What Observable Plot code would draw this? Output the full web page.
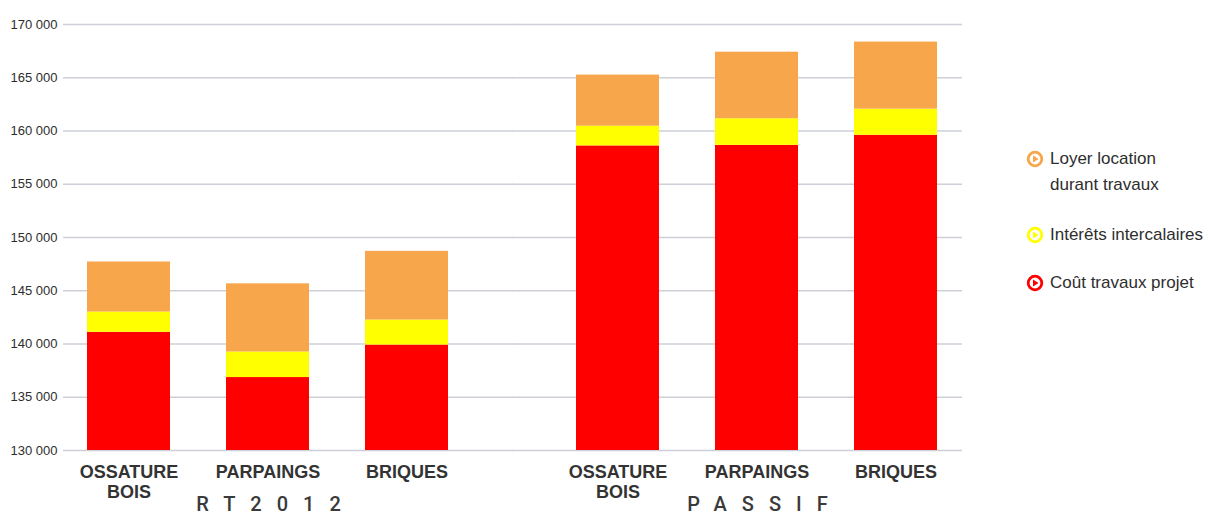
<!DOCTYPE html>
<html><head><meta charset="utf-8">
<script src="https://cdn.jsdelivr.net/npm/d3@7"></script>
<script src="https://cdn.jsdelivr.net/npm/@observablehq/plot@0.6"></script>
<style>
body{margin:0;background:#fff;}
#wrap{position:relative;width:1208px;height:523px;overflow:hidden;}
.leg{position:absolute;left:1026px;font:17px "Liberation Sans",Arial,sans-serif;color:#2e2e2e;line-height:26px;white-space:pre;}
.leg svg{position:absolute;left:0;top:4px;}
.leg span{display:block;margin-left:24px;}
</style></head><body><div id="wrap"></div>
<script>
const groups = ["RT2012", "PASSIF"];
const materials = ["OSSATURE\nBOIS", "PARPAINGS", "BRIQUES"];
const series = ["Coût travaux projet", "Intérêts intercalaires", "Loyer location durant travaux"];
const legendLabels = ["Loyer location\ndurant travaux", "Intérêts intercalaires", "Coût travaux projet"];
const coutTravaux = [141100, 136850, 139900, 158600, 158650, 159600];
const interets = [1900, 2400, 2350, 1850, 2500, 2450];
const loyer = [4700, 6400, 6450, 4800, 6250, 6300];
const yTicks = [130000, 135000, 140000, 145000, 150000, 155000, 160000, 165000, 170000];
const colors = ["#ff0000", "#ffff00", "#f7a64b"];

const rows = [];
groups.forEach((g, gi) => materials.forEach((m, mi) => {
  const i = gi * 3 + mi;
  [coutTravaux[i], interets[i], loyer[i]].forEach((v, si) =>
    rows.push({group: g, material: m, serie: series[si], value: v}));
}));
const gridLeft = yTicks.map(v => ({group: groups[0], v}));
const gridRight = yTicks.map(v => ({group: groups[1], v}));

const fr = d3.formatLocale({decimal: ",", thousands: " ", grouping: [3], currency: ["", " €"]});
const fmt = fr.format(",d");

const chart = Plot.plot({
  width: 1208,
  height: 523,
  marginTop: 24,
  marginBottom: 73,
  marginLeft: 63,
  marginRight: 245,
  style: {fontFamily: "'Liberation Sans', Arial, sans-serif", color: "#333", background: "#fff"},
  fx: {domain: groups, paddingInner: 0.161, paddingOuter: 0, label: null},
  x: {domain: materials, paddingInner: 0.4025, paddingOuter: 0.17, label: null},
  y: {domain: [130000, 170000], label: null},
  color: {domain: series, range: colors},
  marks: [
    Plot.ruleY(gridLeft, {fx: "group", y: "v", stroke: "#cdd0d8", strokeWidth: 1.3, insetRight: -40}),
    Plot.ruleY(gridRight, {fx: "group", y: "v", stroke: "#cdd0d8", strokeWidth: 1.3, insetLeft: -40}),
    Plot.barY(rows, {fx: "group", x: "material", y: "value", fill: "serie", order: series, clip: true}),
    Plot.axisY(yTicks, {tickSize: 0, tickPadding: 6, tickFormat: fmt, fontSize: 13, fill: "#2e2e2e", label: null}),
    Plot.axisX({tickSize: 0, tickPadding: 13, fontSize: 18, fontWeight: "bold", lineHeight: 1.11, fill: "#333", label: null}),
    Plot.axisFx({anchor: "bottom", tickSize: 0, tickPadding: 46, fontSize: 20, fontFamily: "Roboto, 'Liberation Sans', sans-serif", fontWeight: 500, fill: "#3a3a3a", label: null, dx: 7.5})
  ]
});
document.getElementById("wrap").appendChild(chart);
chart.querySelectorAll('g[aria-label="fx-axis tick label"] text').forEach(t => t.style.letterSpacing = "15px");

const tops = [146, 222, 270];
const legColors = [colors[2], colors[1], colors[0]];
legendLabels.forEach((lab, i) => {
  const d = document.createElement("div");
  d.className = "leg";
  d.style.top = tops[i] + "px";
  d.innerHTML = `<svg width="18" height="18" viewBox="0 0 18 18"><circle cx="9" cy="9" r="6.8" fill="#fff" stroke="${legColors[i]}" stroke-width="2.8"/><polygon points="7,5.5 12.6,9 7,12.5" fill="${legColors[i]}"/></svg><span></span>`;
  d.querySelector("span").textContent = lab;
  document.getElementById("wrap").appendChild(d);
});
</script></body></html>
